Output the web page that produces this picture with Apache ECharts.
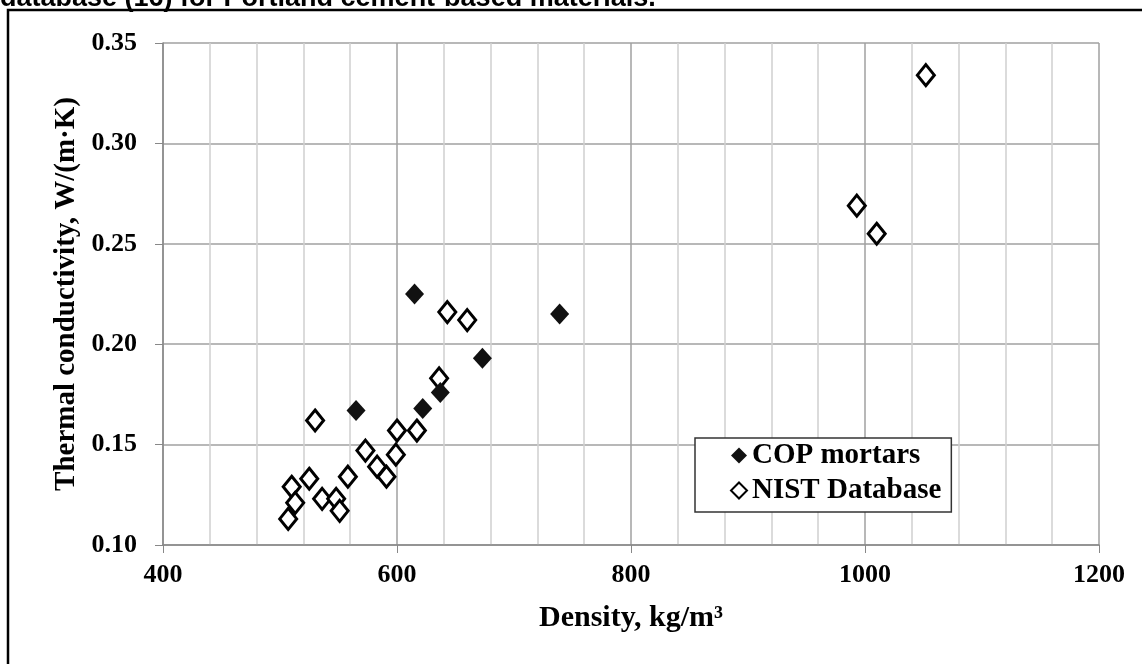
<!DOCTYPE html>
<html>
<head>
<meta charset="utf-8">
<script src="https://cdn.jsdelivr.net/npm/echarts@6/dist/echarts.min.js"></script>
<style>
  html, body { margin: 0; padding: 0; background: #ffffff; }
  #chart { width: 1142px; height: 664px; }
</style>
</head>
<body>
<div id="chart"></div>
<script>
// COP mortars (filled diamonds)
const copDensity = [615, 739, 673, 565, 622, 637];
const copK = [0.225, 0.215, 0.193, 0.167, 0.168, 0.176];

// NIST database (open diamonds)
const nistDensity = [1052, 993, 1010, 643, 660, 636, 530, 600, 617, 573, 599, 583, 558, 591, 525, 510, 536, 548, 513, 551, 507];
const nistK = [0.334, 0.269, 0.255, 0.216, 0.212, 0.183, 0.162, 0.157, 0.157, 0.147, 0.145, 0.139, 0.134, 0.134, 0.133, 0.129, 0.123, 0.123, 0.121, 0.117, 0.113];

const serif = '"Liberation Serif", "Times New Roman", serif';

const myChart = echarts.init(document.getElementById('chart'));

const option = {
  animation: false,
  backgroundColor: '#ffffff',
  graphic: [
    {
      type: 'text',
      left: 0,
      top: -15,
      style: {
        text: 'database (16) for Portland cement-based materials.',
        font: 'bold 27px "Liberation Sans", Arial, sans-serif',
        fill: '#000'
      }
    },
    {
      type: 'rect',
      shape: { x: 8, y: 10, width: 1200, height: 700 },
      style: { fill: 'none', stroke: '#000', lineWidth: 2.5 },
      silent: true
    }
  ],
  grid: {
    left: 163,
    right: 43,
    top: 43,
    bottom: 119
  },
  legend: {
    orient: 'vertical',
    left: 695,
    top: 438,
    padding: [3, 10, 7, 35],
    itemGap: 6,
    itemWidth: 16,
    itemHeight: 16,
    borderColor: '#333',
    borderWidth: 1.5,
    backgroundColor: '#fff',
    textStyle: { fontFamily: serif, fontWeight: 'bold', fontSize: 29, color: '#000' },
    data: ['COP mortars', 'NIST Database']
  },
  xAxis: {
    type: 'value',
    min: 400,
    max: 1200,
    interval: 200,
    name: 'Density, kg/m³',
    nameLocation: 'middle',
    nameGap: 58,
    nameTextStyle: { fontFamily: serif, fontWeight: 'bold', fontSize: 30, color: '#000' },
    axisLine: { show: true, lineStyle: { color: '#888', width: 1.5 } },
    axisTick: { show: true, inside: false, length: 8, lineStyle: { color: '#888' } },
    axisLabel: {
      fontFamily: serif, fontWeight: 'bold', fontSize: 26, color: '#000', margin: 17,
      formatter: (v) => String(v)
    },
    splitLine: { show: true, lineStyle: { color: '#a0a0a0', width: 1.5 } },
    minorTick: { show: false, splitNumber: 5 },
    minorSplitLine: { show: true, lineStyle: { color: '#cfcfcf', width: 1.5 } }
  },
  yAxis: {
    type: 'value',
    min: 0.1,
    max: 0.35,
    interval: 0.05,
    name: 'Thermal conductivity, W/(m·K)',
    nameLocation: 'middle',
    nameGap: 80,
    nameTextStyle: { fontFamily: serif, fontWeight: 'bold', fontSize: 29, color: '#000' },
    axisLine: { show: true, lineStyle: { color: '#888', width: 1.5 } },
    axisTick: { show: true, inside: false, length: 8, lineStyle: { color: '#888' } },
    axisLabel: {
      fontFamily: serif, fontWeight: 'bold', fontSize: 26, color: '#000', margin: 26,
      formatter: (v) => v.toFixed(2)
    },
    splitLine: { show: true, lineStyle: { color: '#a0a0a0', width: 1.5 } }
  },
  series: [
    {
      name: 'NIST Database',
      type: 'scatter',
      symbol: 'diamond',
      symbolSize: [17, 21],
      z: 2,
      itemStyle: { color: '#fff', borderColor: '#000', borderWidth: 3, opacity: 1 },
      data: nistDensity.map((d, i) => [d, nistK[i]])
    },
    {
      name: 'COP mortars',
      type: 'scatter',
      symbol: 'diamond',
      symbolSize: [19, 21],
      z: 3,
      itemStyle: { color: '#111', borderColor: '#000', borderWidth: 0, opacity: 1 },
      data: copDensity.map((d, i) => [d, copK[i]])
    }
  ]
};

myChart.setOption(option);

window.addEventListener('resize', () => myChart.resize());
</script>
</body>
</html>
